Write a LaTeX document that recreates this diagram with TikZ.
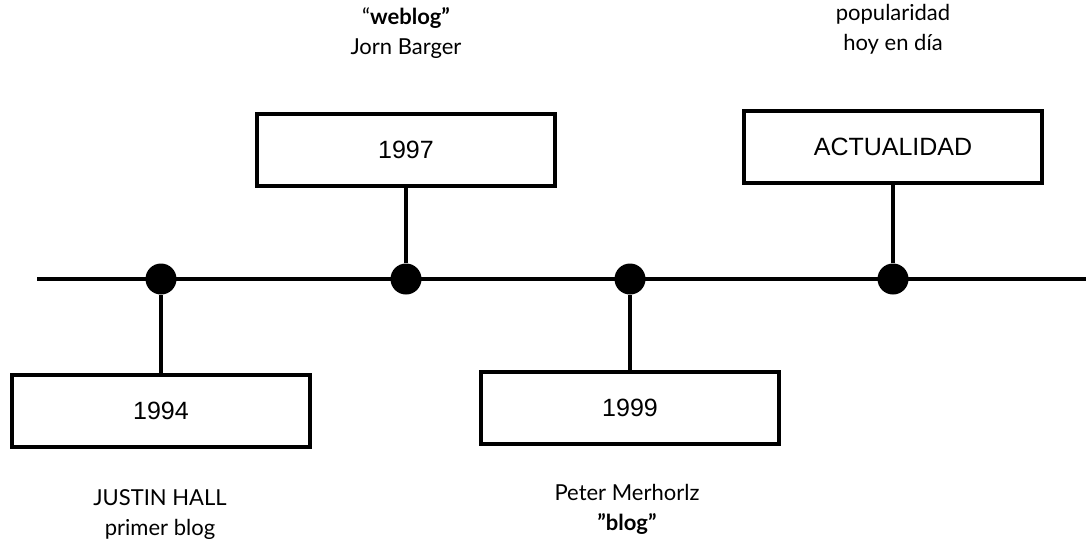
\documentclass[tikz,border=0pt]{standalone}
\usepackage{fontspec}
\usepackage{tikz}
\usetikzlibrary{positioning}
\setmainfont{Lato}
\newfontfamily\boxfont{Liberation Sans}
\tikzset{
    yearbox/.style={draw, line width=4pt, minimum width=298pt, minimum height=72pt, inner sep=0pt, font=\boxfont\fontsize{25}{29}\selectfont},
    eventdot/.style={circle, fill=black, minimum size=31pt, inner sep=0pt},
    notetext/.style={align=center, inner sep=0pt, font=\fontsize{22}{30}\selectfont},
    stem/.style={line width=4pt}
}
\begin{document}
\begin{tikzpicture}[x=1pt, y=-1pt]
    \useasboundingbox (0,0) rectangle (1086,542);

    % The time line with its four events
    \coordinate (start) at (37,279);
    \coordinate (stop) at (1086,279);
    \draw[stem] (start) -- (stop);
    \node[eventdot] (d1994) at (161,279) {};
    \node[eventdot] (d1997) at (406,279) {};
    \node[eventdot] (d1999) at (630,279) {};
    \node[eventdot] (dnow) at (893,279) {};

    % Year boxes above and below the line
    \node[yearbox] (b1994) at (161,411) {1994};
    \node[yearbox] (b1997) at (406,150) {1997};
    \node[yearbox] (b1999) at (630,408) {1999};
    \node[yearbox] (bnow) at (893,147) {ACTUALIDAD};

    \draw[stem] (b1994) -- (d1994);
    \draw[stem] (b1997) -- (d1997);
    \draw[stem] (b1999) -- (d1999);
    \draw[stem] (bnow) -- (dnow);

    % Notes
    \node[notetext] (n1997) at (406,33) {“\textbf{weblog”}\\Jorn Barger};
    \node[notetext] (nnow) at (893,29) {popularidad\\hoy en día};
    \node[notetext] (n1994) at (160,515) {JUSTIN HALL\\primer blog};
    \node[notetext] (n1999) at (627,509) {Peter Merhorlz\\\textbf{”blog”}};
\end{tikzpicture}
\end{document}
